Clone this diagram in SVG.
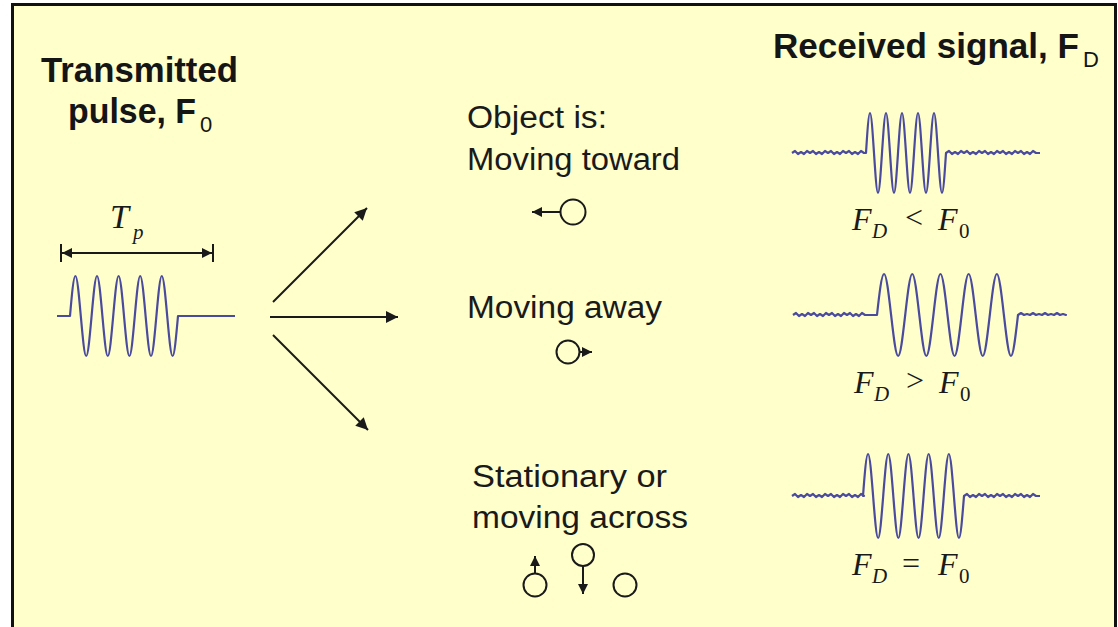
<svg xmlns="http://www.w3.org/2000/svg" width="1118" height="627" viewBox="0 0 1118 627">
<style>
.bold{font-family:"Liberation Sans",Arial,sans-serif;font-weight:bold;font-size:35px;fill:#151515}
.sub{font-family:"Liberation Sans",Arial,sans-serif;font-weight:normal;font-size:22px;fill:#151515}
.lbl{font-family:"Liberation Sans",Arial,sans-serif;font-size:31px;fill:#1a1a1a}
.mi{font-family:"Liberation Serif","Times New Roman",serif;font-style:italic;font-size:32px;fill:#1a1a1a}
.ms{font-family:"Liberation Serif","Times New Roman",serif;font-style:italic;font-size:21px;fill:#1a1a1a}
.mu{font-family:"Liberation Serif","Times New Roman",serif;font-size:21px;fill:#1a1a1a}
.mr{font-family:"Liberation Serif","Times New Roman",serif;font-size:32px;fill:#1a1a1a}
.wave{fill:none;stroke:#4a4a9e;stroke-width:2.2;stroke-linejoin:round}
.ln{stroke:#1a1a1a;stroke-width:2;fill:none}
.circ{fill:none;stroke:#1a1a1a;stroke-width:2}
</style>
<defs>
<marker id="ah" viewBox="0 0 10 10" refX="10" refY="5" markerWidth="16" markerHeight="12" markerUnits="userSpaceOnUse" orient="auto-start-reverse">
<path d="M0,0 L10,5 L0,10 Z" fill="#1a1a1a"/>
</marker>
<marker id="ahs" viewBox="0 0 10 10" refX="10" refY="5" markerWidth="11" markerHeight="10" markerUnits="userSpaceOnUse" orient="auto-start-reverse">
<path d="M0,0 L10,5 L0,10 Z" fill="#1a1a1a"/>
</marker>
</defs>
<rect x="0" y="0" width="1118" height="627" fill="#ffffff"/>
<rect x="12.5" y="4.5" width="1103" height="640" fill="#ffffcc" stroke="#111" stroke-width="3"/>

<g id="title-transmitted">
<text class="bold" x="41" y="82" textLength="197" lengthAdjust="spacingAndGlyphs">Transmitted</text>
<text class="bold" x="68" y="123" textLength="128" lengthAdjust="spacingAndGlyphs">pulse, F</text>
<text class="sub" x="200" y="132">0</text>
</g>

<g id="title-received">
<text class="bold" x="773" y="58" textLength="306" lengthAdjust="spacingAndGlyphs">Received signal, F</text>
<text class="sub" x="1083" y="67">D</text>
</g>

<g id="transmitted-pulse">
<text class="mi" x="110" y="228" style="font-size:34px">T</text>
<text class="ms" x="133" y="239">p</text>
<line class="ln" x1="61" y1="244" x2="61" y2="262"/>
<line class="ln" x1="213" y1="244" x2="213" y2="262"/>
<line class="ln" x1="62" y1="253" x2="212" y2="253" marker-start="url(#ahs)" marker-end="url(#ahs)"/>
<path class="wave" d="M57,316 H70 c1.76,-20.49 3.54,-40 5.4,-40 s3.64,20.49 5.4,40 s3.54,40 5.4,40 s3.64,-20.49 5.4,-40 s3.54,-40 5.4,-40 s3.64,20.49 5.4,40 s3.54,40 5.4,40 s3.64,-20.49 5.4,-40 s3.54,-40 5.4,-40 s3.64,20.49 5.4,40 s3.54,40 5.4,40 s3.64,-20.49 5.4,-40 s3.54,-40 5.4,-40 s3.64,20.49 5.4,40 s3.54,40 5.4,40 s3.64,-20.49 5.4,-40 s3.54,-40 5.4,-40 s3.64,20.49 5.4,40 s3.54,40 5.4,40 s3.64,-20.49 5.4,-40 H235"/>
</g>

<g id="connectors">
<line class="ln" x1="273" y1="302" x2="367" y2="208" marker-end="url(#ah)"/>
<line class="ln" x1="270" y1="317" x2="398" y2="317" marker-end="url(#ah)"/>
<line class="ln" x1="273" y1="335" x2="368" y2="430" marker-end="url(#ah)"/>
</g>

<g id="case-toward">
<text class="lbl" x="467" y="128" textLength="140" lengthAdjust="spacingAndGlyphs">Object is:</text>
<text class="lbl" x="467" y="170" textLength="213" lengthAdjust="spacingAndGlyphs">Moving toward</text>
<circle class="circ" cx="573" cy="212" r="12.5"/>
<line class="ln" x1="560" y1="212" x2="532" y2="212" marker-end="url(#ahs)"/>
</g>

<g id="case-away">
<text class="lbl" x="467" y="318" textLength="195" lengthAdjust="spacingAndGlyphs">Moving away</text>
<circle class="circ" cx="568" cy="352" r="11.5"/>
<line class="ln" x1="580" y1="352" x2="592" y2="352" marker-end="url(#ahs)"/>
</g>

<g id="case-stationary">
<text class="lbl" x="472" y="487" textLength="195" lengthAdjust="spacingAndGlyphs">Stationary or</text>
<text class="lbl" x="472" y="528" textLength="216" lengthAdjust="spacingAndGlyphs">moving across</text>
<circle class="circ" cx="535" cy="585" r="11.5"/>
<line class="ln" x1="535" y1="573" x2="535" y2="556" marker-end="url(#ahs)"/>
<circle class="circ" cx="583" cy="555" r="11"/>
<line class="ln" x1="583" y1="566" x2="583" y2="594" marker-end="url(#ahs)"/>
<circle class="circ" cx="625" cy="585" r="11.5"/>
</g>

<g id="signal-toward">
<path class="wave" d="M792,153 l3,-2 3,3 3,-2 3,2 3,-3 3,2 l3,-2 3,3 3,-2 3,2 3,-3 3,2 l3,-2 3,3 3,-2 3,2 3,-3 3,2 l3,-2 3,3 3,-2 3,2 3,-3 3,2 H866 c1.30,-20.49 2.62,-40 4,-40 s2.70,20.49 4,40 s2.62,40 4,40 s2.70,-20.49 4,-40 s2.62,-40 4,-40 s2.70,20.49 4,40 s2.62,40 4,40 s2.70,-20.49 4,-40 s2.62,-40 4,-40 s2.70,20.49 4,40 s2.62,40 4,40 s2.70,-20.49 4,-40 s2.62,-40 4,-40 s2.70,20.49 4,40 s2.62,40 4,40 s2.70,-20.49 4,-40 s2.62,-40 4,-40 s2.70,20.49 4,40 s2.62,40 4,40 s2.70,-20.49 4,-40 l3,-2 3,3 3,-2 3,2 3,-3 3,2 l3,-2 3,3 3,-2 3,2 3,-3 3,2 l3,-2 3,3 3,-2 3,2 3,-3 3,2 l3,-2 3,3 3,-2 3,2 3,-3 3,2 l3,-2 3,3 3,-2 3,2 3,-3 3,2 H1040"/>
<text class="mi" x="852" y="230">F</text>
<text class="ms" x="872" y="238">D</text>
<text class="mr" x="905" y="228">&lt;</text>
<text class="mi" x="938" y="230">F</text>
<text class="mu" x="959" y="238">0</text>
</g>

<g id="signal-away">
<path class="wave" d="M793,315 l3,-2 3,3 3,-2 3,2 3,-3 3,2 l3,-2 3,3 3,-2 3,2 3,-3 3,2 l3,-2 3,3 3,-2 3,2 3,-3 3,2 l3,-2 3,3 3,-2 3,2 3,-3 3,2 H877 c2.30,-21 4.62,-41 7.05,-41 s4.75,21 7.05,41 s4.62,41 7.05,41 s4.75,-21 7.05,-41 s4.62,-41 7.05,-41 s4.75,21 7.05,41 s4.62,41 7.05,41 s4.75,-21 7.05,-41 s4.62,-41 7.05,-41 s4.75,21 7.05,41 s4.62,41 7.05,41 s4.75,-21 7.05,-41 s4.62,-41 7.05,-41 s4.75,21 7.05,41 s4.62,41 7.05,41 s4.75,-21 7.05,-41 s4.62,-41 7.05,-41 s4.75,21 7.05,41 s4.62,41 7.05,41 s4.75,-21 7.05,-41 l3,-2 3,2 3,-1 3,1 3,-2 3,2 l3,-1 3,1 3,-2 3,2 3,-1 3,1 l3,-2 3,2 3,-1 3,1 H1065"/>
<text class="mi" x="854" y="393">F</text>
<text class="ms" x="874" y="401">D</text>
<text class="mr" x="906" y="391">&gt;</text>
<text class="mi" x="939" y="393">F</text>
<text class="mu" x="960" y="401">0</text>
</g>

<g id="signal-stationary">
<path class="wave" d="M792,496 l3,-2 3,3 3,-2 3,2 3,-3 3,2 l3,-2 3,3 3,-2 3,2 3,-3 3,2 l3,-2 3,3 3,-2 3,2 3,-3 3,2 l3,-2 3,3 3,-2 3,2 3,-3 3,2 H863 c1.65,-21.5 3.31,-42 5.05,-42 s3.40,21.5 5.05,42 s3.31,42 5.05,42 s3.40,-21.5 5.05,-42 s3.31,-42 5.05,-42 s3.40,21.5 5.05,42 s3.31,42 5.05,42 s3.40,-21.5 5.05,-42 s3.31,-42 5.05,-42 s3.40,21.5 5.05,42 s3.31,42 5.05,42 s3.40,-21.5 5.05,-42 s3.31,-42 5.05,-42 s3.40,21.5 5.05,42 s3.31,42 5.05,42 s3.40,-21.5 5.05,-42 s3.31,-42 5.05,-42 s3.40,21.5 5.05,42 s3.31,42 5.05,42 s3.40,-21.5 5.05,-42 l3,-2 3,3 3,-2 3,2 3,-3 3,2 l3,-2 3,3 3,-2 3,2 3,-3 3,2 l3,-2 3,3 3,-2 3,2 3,-3 3,2 l3,-2 3,3 3,-2 3,2 3,-3 3,2 H1040"/>
<text class="mi" x="852" y="575">F</text>
<text class="ms" x="872" y="583">D</text>
<text class="mr" x="902" y="574">=</text>
<text class="mi" x="938" y="575">F</text>
<text class="mu" x="959" y="583">0</text>
</g>
</svg>
